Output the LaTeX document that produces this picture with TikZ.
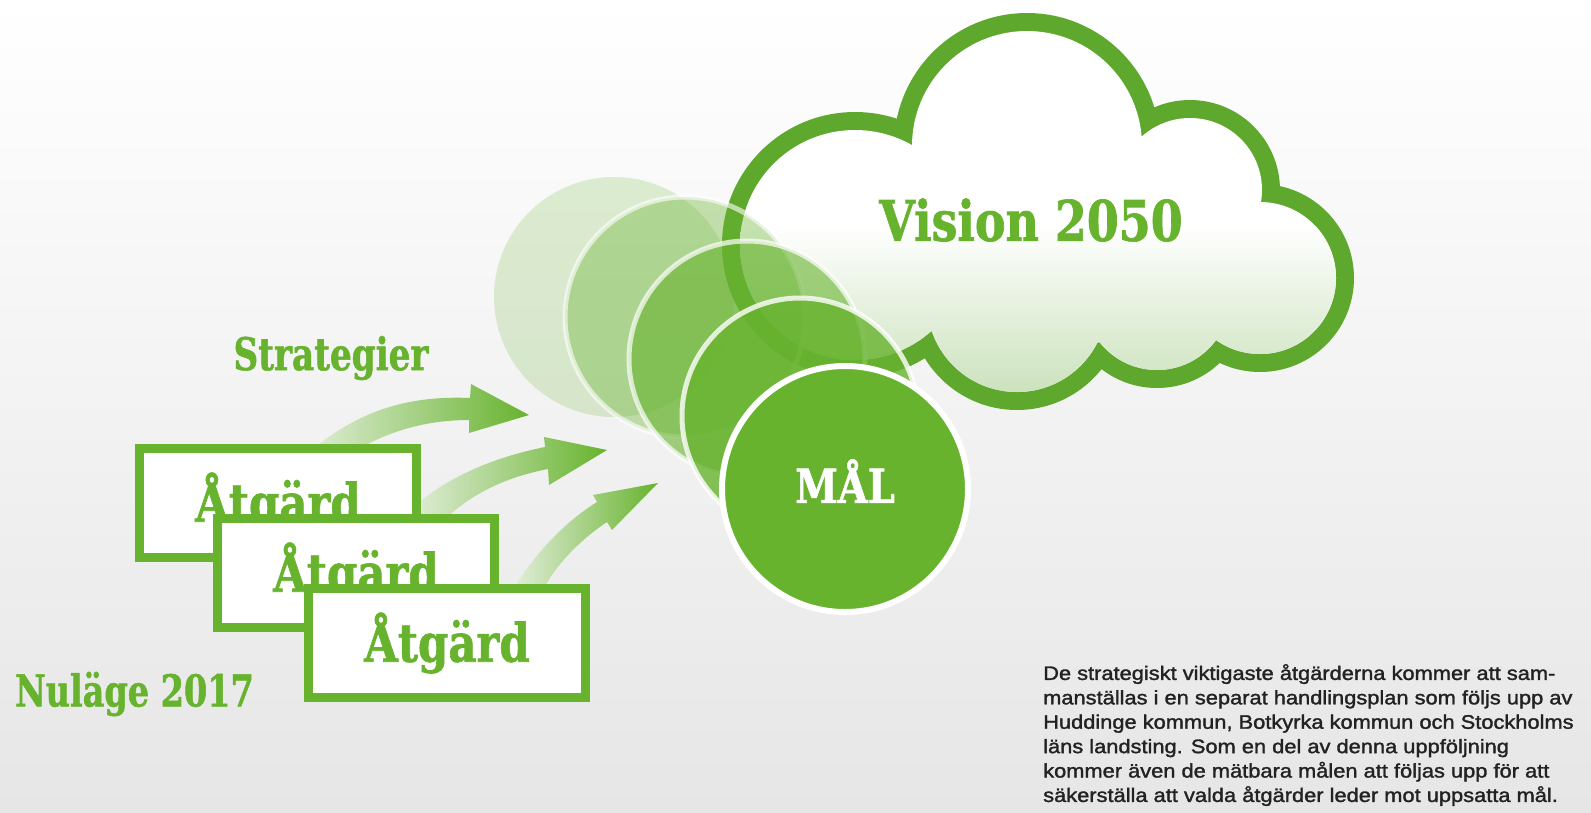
\documentclass[tikz,border=0pt]{standalone}
\usepackage{fontspec}
\setmainfont{Liberation Sans}
\newfontfamily\slabfont[FakeStretch=0.82, BoldFeatures={FakeBold=1.2}]{DejaVu Serif}
\newfontfamily\slabnarrow[FakeStretch=0.76, BoldFeatures={FakeBold=1.2}]{DejaVu Serif}
\newfontfamily\bodyfont[FakeStretch=1.12, FakeBold=1.6]{Liberation Sans}
\definecolor{leaf}{HTML}{67B32E}
\definecolor{cloudline}{HTML}{5FA82E}
\definecolor{cloudlow}{HTML}{C8E0B8}
\definecolor{bgbottom}{HTML}{E6E6E6}
\definecolor{arrowtail}{HTML}{E4EFDD}
\definecolor{ink}{HTML}{222222}

\begin{document}
\begin{tikzpicture}[x=1pt, y=-1pt,
    atgard/.style={draw=leaf, line width=9pt, fill=white, minimum width=277pt, minimum height=109pt,
        inner sep=0pt, text=leaf, font=\slabfont\bfseries\fontsize{53}{60}\selectfont},
    heading/.style={inner sep=0pt, text=leaf, font=\slabnarrow\bfseries\fontsize{45}{54}\selectfont},
    disc/.style={circle, fill=leaf, draw=white, line width=5pt, inner sep=0pt}]
    \useasboundingbox (0,0) rectangle (1591,812);
    \shade[top color=white, bottom color=bgbottom] (0,0) rectangle (1591,812);

    \def\cloudbumps{1027/146/133, 855/245/133, 1190/190/90, 1260/278/94, 1157/297/91, 1017/302/108}
    \fill[cloudline] \foreach \cx/\cy/\r in \cloudbumps {(\cx,\cy) circle (\r)};
    \begin{scope}
        \clip \foreach \cx/\cy/\r in \cloudbumps {(\cx,\cy) circle ({\r-18})}
            (1060,250) circle (100) (1180,270) circle (70) (960,290) circle (50);
        \fill[white] (700,0) rectangle (1360,415);
        \shade[top color=white, bottom color=cloudlow] (700,225) rectangle (1360,405);
    \end{scope}
    \node[heading, font=\slabfont\bfseries\fontsize{56}{64}\selectfont] (vision) at (1031,220) {Vision 2050};

    \shade[left color=arrowtail, right color=leaf] (471,384) -- (529,415) -- (469,433) -- (469,420)
        .. controls (420,420) and (370,435) .. (330,470) -- (300,460)
        .. controls (350,415) and (400,395) .. (470,398) -- cycle;
    \shade[left color=arrowtail, right color=leaf] (544,437) -- (607,450) -- (549,485) -- (548,469)
        .. controls (500,478) and (460,500) .. (435,530) -- (405,515)
        .. controls (440,480) and (490,458) .. (545,447) -- cycle;
    \shade[left color=arrowtail, right color=leaf] (593,495) -- (658,483) -- (612,530) -- (607,522)
        .. controls (580,540) and (555,565) .. (540,595) -- (510,595)
        .. controls (530,560) and (560,525) .. (597,502) -- cycle;

    \node[disc, draw=none, fill opacity=0.2, minimum size=240pt] (mal1) at (614,297) {};
    \node[disc, fill opacity=0.38, draw opacity=0.6, minimum size=240pt] (mal2) at (685,317) {};
    \node[disc, fill opacity=0.6, draw opacity=0.7, minimum size=236pt] (mal3) at (747,359) {};
    \node[disc, fill opacity=0.8, draw opacity=0.8, minimum size=236pt] (mal4) at (800,416) {};
    \node[disc, line width=6pt, minimum size=246pt] (mal) at (845,489) {};
    \node[inner sep=0pt, text=white, font=\slabfont\bfseries\fontsize{47}{54}\selectfont] (maltext) at (845,481) {MÅL};

    \node[atgard] (atg1) at (278,503) {Åtgärd};
    \node[atgard] (atg2) at (356,573) {Åtgärd};
    \node[atgard] (atg3) at (447,643) {Åtgärd};

    \node[heading] (strat) at (331,358) {Strategier};
    \node[heading, anchor=west, font=\slabnarrow\bfseries\fontsize{44}{52}\selectfont] (nulage) at (15,694) {Nuläge 2017};

    \node[anchor=north west, inner sep=0pt, align=left, text=ink, font=\bodyfont\fontsize{19.5}{24.4}\selectfont] (info) at (1043,664)
        {De strategiskt viktigaste åtgärderna kommer att sam-\\
        manställas i en separat handlingsplan som följs upp av\\
        Huddinge kommun, Botkyrka kommun och Stockholms\\
        läns landsting. Som en del av denna uppföljning\\
        kommer även de mätbara målen att följas upp för att\\
        säkerställa att valda åtgärder leder mot uppsatta mål.};
\end{tikzpicture}
\end{document}
